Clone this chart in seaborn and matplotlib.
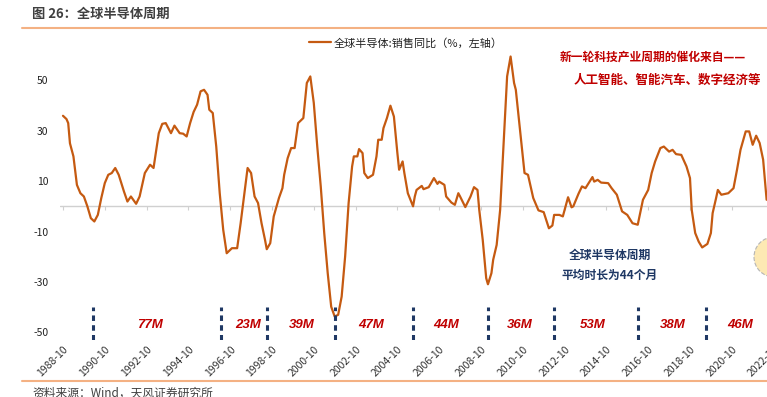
import pandas as pd
import numpy as np
import matplotlib
matplotlib.use("Agg")
import matplotlib.pyplot as plt
from matplotlib.lines import Line2D
from matplotlib.patches import Ellipse
import seaborn as sns

# 全球半导体销售同比（%），读图估计
dates = ["1988-10", "1988-12", "1989-01", "1989-02", "1989-04", "1989-06", "1989-08", "1989-10",
         "1989-12", "1990-02", "1990-04", "1990-06", "1990-08", "1990-10", "1990-12", "1991-02",
         "1991-04", "1991-06", "1991-09", "1991-11", "1992-01", "1992-04", "1992-06", "1992-09",
         "1992-12", "1993-02", "1993-03", "1993-05", "1993-07", "1993-09", "1993-12", "1994-02",
         "1994-05", "1994-07", "1994-09", "1994-11", "1995-01", "1995-03", "1995-05", "1995-07",
         "1995-09", "1995-10", "1995-12", "1996-02", "1996-04", "1996-06", "1996-08", "1996-11",
         "1997-02", "1997-04", "1997-07", "1997-08", "1997-10", "1997-12", "1998-02", "1998-04",
         "1998-06", "1998-07", "1998-09", "1998-11", "1999-02", "1999-04", "1999-05", "1999-07",
         "1999-09", "1999-11", "2000-01", "2000-04", "2000-06", "2000-08", "2000-10", "2000-12",
         "2001-02", "2001-04", "2001-06", "2001-08", "2001-10", "2001-12", "2002-02", "2002-04",
         "2002-06", "2002-08", "2002-09", "2002-11", "2002-12", "2003-02", "2003-03", "2003-05",
         "2003-08", "2003-10", "2003-11", "2004-01", "2004-02", "2004-04", "2004-06", "2004-08",
         "2004-10", "2004-11", "2005-01", "2005-02", "2005-04", "2005-07", "2005-08", "2005-09",
         "2005-12", "2006-01", "2006-04", "2006-07", "2006-09", "2006-10", "2007-01", "2007-02",
         "2007-05", "2007-07", "2007-09", "2007-10", "2008-01", "2008-04", "2008-06", "2008-08",
         "2008-09", "2008-11", "2009-01", "2009-02", "2009-04", "2009-05", "2009-07", "2009-09",
         "2009-11", "2010-01", "2010-03", "2010-05", "2010-06", "2010-08", "2010-11", "2011-01",
         "2011-04", "2011-07", "2011-10", "2012-01", "2012-03", "2012-04", "2012-07", "2012-09",
         "2012-12", "2013-02", "2013-03", "2013-06", "2013-08", "2013-10", "2014-02", "2014-03",
         "2014-05", "2014-07", "2014-11", "2015-01", "2015-04", "2015-07", "2015-10", "2016-01",
         "2016-04", "2016-07", "2016-10", "2016-12", "2017-02", "2017-05", "2017-07", "2017-10",
         "2017-12", "2018-02", "2018-05", "2018-08", "2018-10", "2018-11", "2019-01", "2019-03",
         "2019-05", "2019-08", "2019-10", "2019-11", "2020-01", "2020-02", "2020-04", "2020-08",
         "2020-11", "2021-01", "2021-03", "2021-06", "2021-08", "2021-10", "2021-12", "2022-02",
         "2022-04", "2022-06"]
sales_yoy = [35.9, 34.6, 33.0, 25.0, 19.8, 8.5, 5.2, 3.9,
             0.0, -4.7, -6.0, -3.4, 3.3, 9.2, 12.5, 13.2,
             15.2, 12.5, 5.9, 1.9, 3.9, 1.0, 3.9, 13.2,
             16.5, 15.2, 19.8, 29.0, 32.7, 33.0, 29.0, 32.0,
             29.0, 28.8, 27.7, 33.0, 37.4, 40.3, 45.6, 46.2,
             44.2, 38.3, 37.0, 23.7, 5.2, -9.3, -18.6, -16.6,
             -16.6, -6.7, 9.8, 15.2, 13.2, 3.9, 1.3, -6.7,
             -13.3, -17.0, -14.6, -4.0, 3.3, 7.2, 12.5, 19.1,
             23.1, 23.1, 33.0, 35.0, 48.9, 51.5, 41.0, 23.7,
             7.9, -10.6, -26.5, -39.8, -43.7, -43.0, -35.8, -19.9,
             1.3, 15.8, 19.8, 19.8, 22.7, 21.1, 13.2, 11.2,
             12.5, 19.8, 26.4, 26.4, 31.0, 35.0, 39.9, 35.6,
             21.1, 14.5, 17.8, 13.2, 5.2, 0.0, 3.9, 6.5,
             8.1, 6.8, 7.6, 11.2, 8.9, 9.8, 8.5, 3.9,
             1.5, 0.6, 5.2, 3.9, -0.3, 3.9, 7.6, 6.5,
             -1.4, -13.3, -28.5, -30.9, -26.5, -21.2, -15.3, -1.4,
             25.1, 51.5, 59.4, 48.9, 46.2, 33.0, 13.2, 12.5,
             3.3, -1.6, -2.3, -8.7, -7.6, -3.4, -3.4, -4.0,
             3.6, -0.4, 0.0, 5.0, 7.9, 7.2, 11.6, 9.8,
             10.5, 9.4, 9.2, 7.2, 4.6, -2.0, -3.4, -6.7,
             -7.3, 2.6, 6.5, 13.2, 17.8, 23.1, 23.7, 21.7,
             22.4, 20.7, 20.4, 15.8, 11.2, -1.4, -10.6, -14.0,
             -16.3, -14.9, -10.6, -2.7, 3.3, 6.5, 4.6, 5.2,
             7.2, 14.5, 22.4, 29.7, 29.7, 24.4, 28.0, 25.1,
             18.5, 2.6]

# 周期分界（虚线）与各周期时长
cycle_bounds = ["1990-03", "1996-05", "1998-07", "2001-10", "2005-07",
                "2009-02", "2012-04", "2016-04", "2019-07"]
cycle_labels = ["77M", "23M", "39M", "47M", "44M", "36M", "53M", "38M", "46M"]
cycle_label_dates = ["1992-12", "1997-08", "2000-03", "2003-07", "2007-02",
                     "2010-08", "2014-02", "2017-12", "2021-03"]

tick_labels = ["%d-10" % y for y in range(1988, 2023, 2)]
y_ticks = [50, 30, 10, -10, -30, -50]


def month_idx(s):
    y, m = s.split("-")
    return (int(y) - 1988) * 12 + int(m) - 10


df = pd.DataFrame({"m": [month_idx(d) for d in dates], "v": sales_yoy})

sns.set_theme(style="white")
plt.rcParams["font.family"] = ["Noto Sans CJK SC", "DejaVu Sans"]
plt.rcParams["axes.unicode_minus"] = False

W, H = 767, 397
fig = plt.figure(figsize=(W / 100, H / 100), dpi=100)
ax = fig.add_axes([59.5 / W, 1 - 340 / H, 731.5 / W, 285 / H])

line_c = "#c55a11"
sns.lineplot(data=df, x="m", y="v", ax=ax, color=line_c, lw=1.6,
             label="全球半导体:销售同比（%，左轴）")

ax.set_xlim(-2, 418)
ax.set_ylim(-53, 60)
for s in ax.spines.values():
    s.set_visible(False)
ax.set_xlabel("")
ax.set_ylabel("")

xt = [month_idx(t) for t in tick_labels]
ax.set_xticks(xt)
ax.set_xticklabels(tick_labels, rotation=45, ha="right", va="top",
                   rotation_mode="anchor", fontsize=7.5, color="#333333")
ax.set_yticks(y_ticks)
ax.set_yticklabels([str(v) for v in y_ticks], fontsize=7.5, color="#222222")
ax.tick_params(axis="both", length=0)
ax.tick_params(axis="x", pad=3)
ax.tick_params(axis="y", pad=8)

# 零轴及刻度
ax.axhline(0, color="#d0d0d0", lw=1, zorder=1)
zero_frac = (0 - ax.get_ylim()[0]) / (ax.get_ylim()[1] - ax.get_ylim()[0])
sec = ax.secondary_xaxis(zero_frac)
sec.set_xticks(xt)
sec.set_xticklabels([])
sec.tick_params(length=3, color="#d0d0d0", direction="out", width=0.8)
sec.spines["bottom"].set_visible(False)

# 周期分界虚线
ax.vlines([month_idx(b) for b in cycle_bounds], -53, -40, colors="#1f3864",
          linestyles=(0, (1.8, 1.4)), lw=2.2)
for lab, d in zip(cycle_labels, cycle_label_dates):
    ax.text(month_idx(d), -47, lab, ha="center", va="center", fontsize=9.5,
            color="#c00000", fontweight="bold", style="italic",
            family=["Liberation Sans", "DejaVu Sans"])

leg = ax.legend(loc="center", bbox_to_anchor=(406 / W, 1 - 43 / H),
                bbox_transform=fig.transFigure, frameon=False, fontsize=8,
                handlelength=2.0, handletextpad=0.2)
for t in leg.get_texts():
    t.set_color("#222222")

# 标题与分隔线
fig.text(32 / W, 1 - 14 / H, "图 26：全球半导体周期", ha="left", va="center",
         fontsize=9.5, color="#404040", fontweight="bold")
fig.add_artist(Line2D([22 / W, 1], [1 - 28 / H] * 2, color="#f4b183", lw=1.5))
fig.add_artist(Line2D([22 / W, 1], [1 - 381 / H] * 2, color="#f4b183", lw=1.5))
fig.text(32 / W, 1 - 387 / H, "资料来源：Wind，天风证券研究所", ha="left", va="top",
         fontsize=8.5, color="#404040")

# 注释
fig.text(653 / W, 1 - 57 / H, "新一轮科技产业周期的催化来自——", ha="center", va="center",
         fontsize=8.5, color="#c00000", fontweight="bold")
fig.text(667 / W, 1 - 80 / H, "人工智能、智能汽车、数字经济等", ha="center", va="center",
         fontsize=9, color="#c00000", fontweight="bold")
fig.text(610 / W, 1 - 255 / H, "全球半导体周期", ha="center", va="center",
         fontsize=8.5, color="#1f3864", fontweight="bold")
fig.text(610 / W, 1 - 275 / H, "平均时长为44个月", ha="center", va="center",
         fontsize=8.5, color="#1f3864", fontweight="bold")

fig.add_artist(Ellipse((774 / W, 1 - 257 / H), 40 / W, 40 / H, transform=fig.transFigure,
                       facecolor="#fde9b3", edgecolor="#b5b5b5", ls="--", lw=0.8))

fig.savefig("out.png", dpi=100)
